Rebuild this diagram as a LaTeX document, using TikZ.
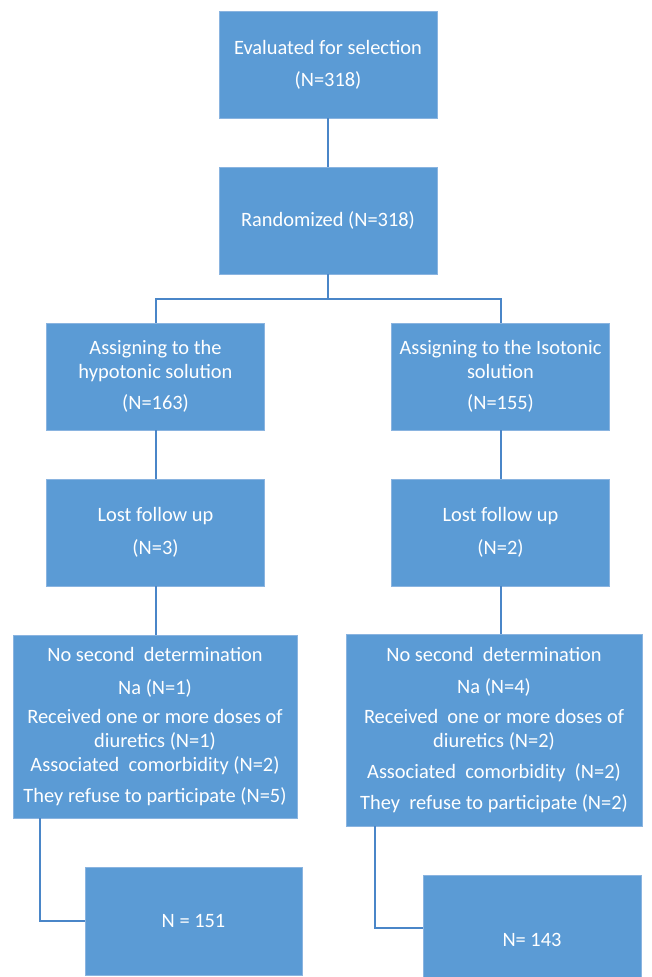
\documentclass[tikz,border=0pt]{standalone}
\usepackage{fontspec}
\setmainfont{Carlito}
\usepackage{xcolor}
\usepackage{tikz}
\definecolor{boxblue}{HTML}{5B9BD5}
\definecolor{edgeblue}{HTML}{8AB4E0}
\definecolor{linkblue}{HTML}{4A86C8}
\tikzstyle{block} = [draw=edgeblue, line width=0.8pt,
	fill=boxblue, text=white,
	align=center, inner sep=0pt,
	minimum width=218pt,
	minimum height=107pt,
	font=\fontsize{20.4}{24}\selectfont]
\tikzstyle{link} = [draw=linkblue, line width=2pt]

\begin{document}
\begin{tikzpicture}[x=1pt, y=-1pt]
			\path [use as bounding box, clip] (0,0) rectangle (651,977);
			
			\node (eval) [block] at (328,64.5) {Evaluated for selection\\[8pt](N=318)};
			\node (rand) [block] at (328,220.5) {Randomized (N=318)};
			\draw [link] (eval) -- (rand);
			
			\node (hypo) [block] at (155.5,376.5) {Assigning to the\\hypotonic solution\\[7pt](N=163)};
			\node (iso) [block] at (500.5,376.5) {Assigning to the Isotonic\\solution\\[7pt](N=155)};
			\coordinate (split) at (328,299);
			\draw [link] (rand) -- (split);
			\draw [link] (hypo.north) |- (split) -| (iso.north);
			
			\node (lostL) [block] at (155.5,532.5) {Lost follow up\\[9pt](N=3)};
			\node (lostR) [block] at (500.5,532.5) {Lost follow up\\[9pt](N=2)};
			\draw [link] (hypo) -- (lostL);
			\draw [link] (iso) -- (lostR);
			
			\node (exclL) [block, minimum width=284pt, minimum height=183pt] at (155,726.5)
				{No second\ \ determination\\[9pt]Na (N=1)\\[5pt]Received one or more doses of\\diuretics (N=1)\\Associated\ \ comorbidity (N=2)\\[7pt]They refuse to participate (N=5)};
			\node (exclR) [block, minimum width=296pt, minimum height=192pt] at (494,730)
				{No second\ \ determination\\[8pt]Na (N=4)\\[6pt]Received\ \ one or more doses of\\diuretics (N=2)\\[7pt]Associated\ \ comorbidity\ \ (N=2)\\[7pt]They\ \ refuse to participate (N=2)};
			\draw [link] (lostL) -- (lostL |- exclL.north);
			\draw [link] (lostR) -- (lostR |- exclR.north);
			
			\node (finL) [block, minimum width=217pt, minimum height=108pt] at (193.5,921) {N = 151};
			\node (finR) [block, minimum height=130pt] at (532,940) {N= 143};
			\draw [link] ([xshift=27pt]exclL.south west) |- (finL.west);
			\draw [link] ([xshift=29pt]exclR.south west) |- ([yshift=12pt]finR.west);
		\end{tikzpicture}
\end{document}
